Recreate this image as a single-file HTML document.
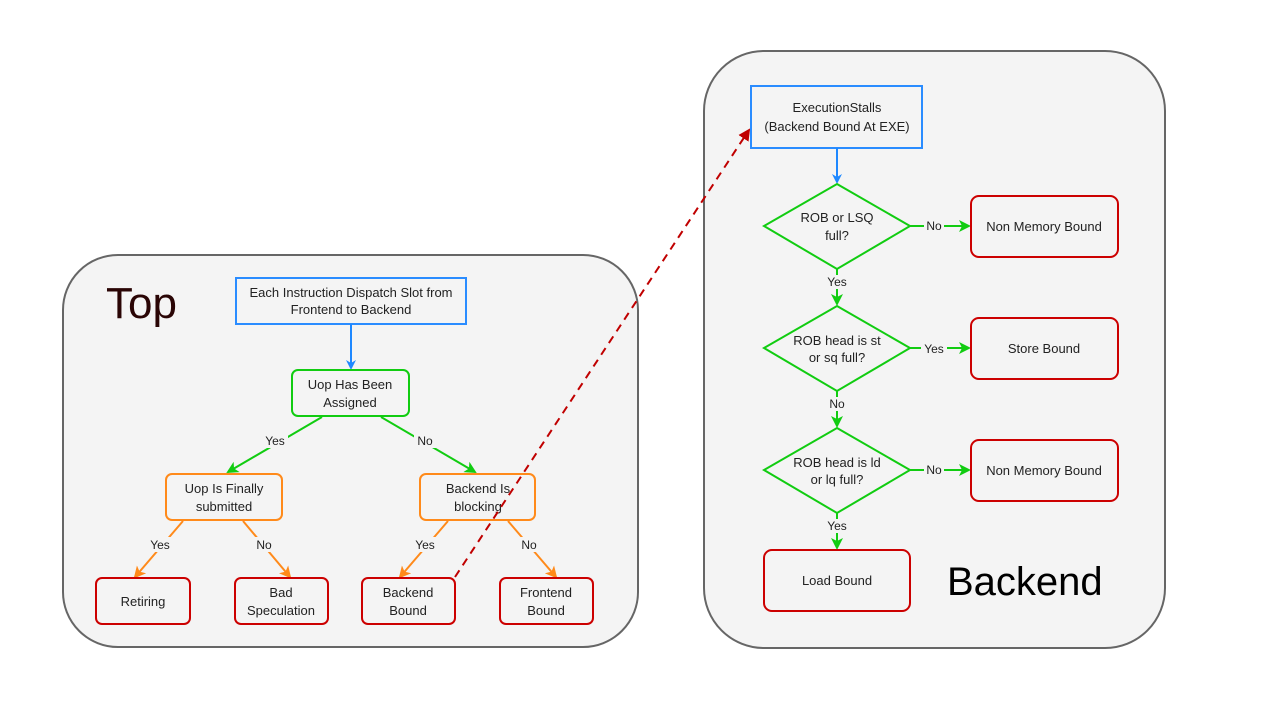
<!DOCTYPE html>
<html><head><meta charset="utf-8"><style>
html,body{margin:0;padding:0;background:#fff;}
svg{display:block;font-family:"Liberation Sans",sans-serif;}
</style></head><body>
<svg width="1280" height="720" viewBox="0 0 1280 720">
<defs>
<marker id="ab" markerWidth="10" markerHeight="10" refX="8" refY="5" orient="auto" markerUnits="userSpaceOnUse"><path d="M0,0 L10,5 L0,10 L3,5 z" fill="#1e88ff"/></marker>
<marker id="ag" markerWidth="12" markerHeight="12" refX="10" refY="6" orient="auto" markerUnits="userSpaceOnUse"><path d="M0,0 L12,6 L0,12 L3,6 z" fill="#11cc11"/></marker>
<marker id="ao" markerWidth="12" markerHeight="12" refX="10" refY="6" orient="auto" markerUnits="userSpaceOnUse"><path d="M0,0 L12,6 L0,12 L3,6 z" fill="#ff8a1a"/></marker>
<marker id="ar" markerWidth="12" markerHeight="12" refX="10" refY="6" orient="auto" markerUnits="userSpaceOnUse"><path d="M0,0 L12,6 L0,12 z" fill="#c00000"/></marker>
</defs>
<rect x="63" y="255" width="575" height="392" rx="55" fill="#f4f4f4" stroke="#666" stroke-width="2"/>
<rect x="704" y="51" width="461" height="597" rx="60" fill="#f4f4f4" stroke="#666" stroke-width="2"/>
<text x="106" y="318" font-size="44" fill="#2a0505">Top</text>
<text x="947" y="595" font-size="40" fill="#000">Backend</text>

<g font-size="13" fill="#222" text-anchor="middle">
<rect x="236" y="278" width="230" height="46" fill="#f4f4f4" stroke="#2a8cff" stroke-width="2"/>
<text x="351" y="297">Each Instruction Dispatch Slot from</text><text x="351" y="314">Frontend to Backend</text>
<line x1="351" y1="324" x2="351" y2="368" stroke="#1e88ff" stroke-width="2" marker-end="url(#ab)"/>
<rect x="292" y="370" width="117" height="46" rx="6" fill="#f4f4f4" stroke="#11cc11" stroke-width="2"/>
<text x="350" y="389">Uop Has Been</text><text x="350" y="407">Assigned</text>

<line x1="322" y1="417" x2="228" y2="472" stroke="#11cc11" stroke-width="2" marker-end="url(#ag)"/>
<line x1="381" y1="417" x2="475" y2="472" stroke="#11cc11" stroke-width="2" marker-end="url(#ag)"/>
<rect x="262" y="433" width="26" height="15" fill="#f4f4f4"/><text x="275" y="445" font-size="12">Yes</text>
<rect x="414" y="433" width="22" height="15" fill="#f4f4f4"/><text x="425" y="445" font-size="12">No</text>

<rect x="166" y="474" width="116" height="46" rx="6" fill="#f4f4f4" stroke="#ff8a1a" stroke-width="2"/>
<text x="224" y="493">Uop Is Finally</text><text x="224" y="511">submitted</text>
<rect x="420" y="474" width="115" height="46" rx="6" fill="#f4f4f4" stroke="#ff8a1a" stroke-width="2"/>
<text x="478" y="493">Backend Is</text><text x="478" y="511">blocking</text>

<line x1="183" y1="521" x2="135" y2="577" stroke="#ff8a1a" stroke-width="2" marker-end="url(#ao)"/>
<line x1="243" y1="521" x2="290" y2="577" stroke="#ff8a1a" stroke-width="2" marker-end="url(#ao)"/>
<line x1="448" y1="521" x2="400" y2="577" stroke="#ff8a1a" stroke-width="2" marker-end="url(#ao)"/>
<line x1="508" y1="521" x2="556" y2="577" stroke="#ff8a1a" stroke-width="2" marker-end="url(#ao)"/>
<rect x="147" y="537" width="26" height="15" fill="#f4f4f4"/><text x="160" y="549" font-size="12">Yes</text>
<rect x="253" y="537" width="22" height="15" fill="#f4f4f4"/><text x="264" y="549" font-size="12">No</text>
<rect x="412" y="537" width="26" height="15" fill="#f4f4f4"/><text x="425" y="549" font-size="12">Yes</text>
<rect x="518" y="537" width="22" height="15" fill="#f4f4f4"/><text x="529" y="549" font-size="12">No</text>

<rect x="96" y="578" width="94" height="46" rx="6" fill="#f4f4f4" stroke="#cc0000" stroke-width="2"/>
<text x="143" y="606">Retiring</text>
<rect x="235" y="578" width="93" height="46" rx="6" fill="#f4f4f4" stroke="#cc0000" stroke-width="2"/>
<text x="281" y="597">Bad</text><text x="281" y="615">Speculation</text>
<rect x="362" y="578" width="93" height="46" rx="6" fill="#f4f4f4" stroke="#cc0000" stroke-width="2"/>
<text x="408" y="597">Backend</text><text x="408" y="615">Bound</text>
<rect x="500" y="578" width="93" height="46" rx="6" fill="#f4f4f4" stroke="#cc0000" stroke-width="2"/>
<text x="546" y="597">Frontend</text><text x="546" y="615">Bound</text>

<line x1="455" y1="577" x2="749" y2="130" stroke="#c00000" stroke-width="2" stroke-dasharray="8,6" marker-end="url(#ar)"/>

<rect x="751" y="86" width="171" height="62" fill="#f4f4f4" stroke="#2a8cff" stroke-width="2"/>
<text x="837" y="112">ExecutionStalls</text><text x="837" y="131">(Backend Bound At EXE)</text>
<line x1="837" y1="148" x2="837" y2="182" stroke="#1e88ff" stroke-width="2" marker-end="url(#ab)"/>

<polygon points="837,184 910,226 837,269 764,226" fill="#f4f4f4" stroke="#11cc11" stroke-width="2"/>
<text x="837" y="222">ROB or LSQ</text><text x="837" y="240">full?</text>
<polygon points="837,306 910,348 837,391 764,348" fill="#f4f4f4" stroke="#11cc11" stroke-width="2"/>
<text x="837" y="345">ROB head is st</text><text x="837" y="362">or sq full?</text>
<polygon points="837,428 910,470 837,513 764,470" fill="#f4f4f4" stroke="#11cc11" stroke-width="2"/>
<text x="837" y="467">ROB head is ld</text><text x="837" y="484">or lq full?</text>

<line x1="910" y1="226" x2="969" y2="226" stroke="#11cc11" stroke-width="2" marker-end="url(#ag)"/>
<line x1="910" y1="348" x2="969" y2="348" stroke="#11cc11" stroke-width="2" marker-end="url(#ag)"/>
<line x1="910" y1="470" x2="969" y2="470" stroke="#11cc11" stroke-width="2" marker-end="url(#ag)"/>
<line x1="837" y1="269" x2="837" y2="304" stroke="#11cc11" stroke-width="2" marker-end="url(#ag)"/>
<line x1="837" y1="391" x2="837" y2="426" stroke="#11cc11" stroke-width="2" marker-end="url(#ag)"/>
<line x1="837" y1="513" x2="837" y2="548" stroke="#11cc11" stroke-width="2" marker-end="url(#ag)"/>
<rect x="924" y="219" width="20" height="14" fill="#f4f4f4"/><text x="934" y="230" font-size="12">No</text>
<rect x="921" y="341" width="26" height="14" fill="#f4f4f4"/><text x="934" y="353" font-size="12">Yes</text>
<rect x="924" y="463" width="20" height="14" fill="#f4f4f4"/><text x="934" y="474" font-size="12">No</text>
<rect x="824" y="275" width="26" height="14" fill="#f4f4f4"/><text x="837" y="286" font-size="12">Yes</text>
<rect x="827" y="397" width="20" height="14" fill="#f4f4f4"/><text x="837" y="408" font-size="12">No</text>
<rect x="824" y="519" width="26" height="14" fill="#f4f4f4"/><text x="837" y="530" font-size="12">Yes</text>

<rect x="971" y="196" width="147" height="61" rx="8" fill="#f4f4f4" stroke="#cc0000" stroke-width="2"/>
<text x="1044" y="231">Non Memory Bound</text>
<rect x="971" y="318" width="147" height="61" rx="8" fill="#f4f4f4" stroke="#cc0000" stroke-width="2"/>
<text x="1044" y="353">Store Bound</text>
<rect x="971" y="440" width="147" height="61" rx="8" fill="#f4f4f4" stroke="#cc0000" stroke-width="2"/>
<text x="1044" y="475">Non Memory Bound</text>
<rect x="764" y="550" width="146" height="61" rx="8" fill="#f4f4f4" stroke="#cc0000" stroke-width="2"/>
<text x="837" y="585">Load Bound</text>
</g>
</svg>
</body></html>
